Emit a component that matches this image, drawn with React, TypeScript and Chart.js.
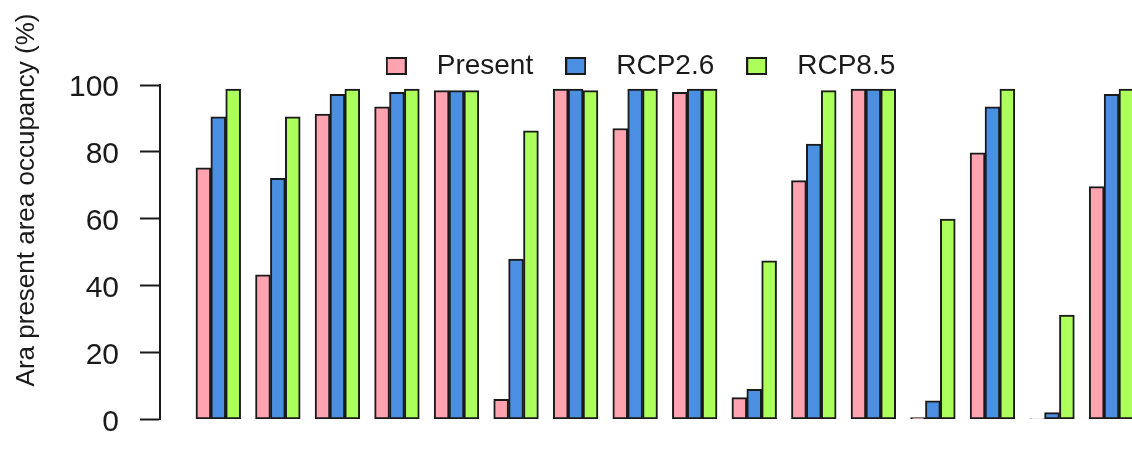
import React, { useEffect, useRef } from "react";
import { Chart, registerables } from "chart.js";

Chart.register(...registerables);

// ---- data ----
const categories = ["1", "2", "3", "4", "5", "6", "7", "8", "9", "10", "11", "12", "13", "14", "15", "16"];
const seriesNames = ["Present", "RCP2.6", "RCP8.5"];
const present = [75.2, 43.2, 91.3, 93.5, 98.3, 6.0, 98.8, 87.0, 97.8, 6.5, 71.4, 98.8, 0.5, 79.7, 0.1, 69.6];
const rcp26 = [90.5, 72.1, 97.2, 97.8, 98.3, 47.9, 98.8, 98.8, 98.8, 9.0, 82.3, 98.8, 5.5, 93.5, 2.0, 97.2];
const rcp85 = [98.8, 90.5, 98.8, 98.8, 98.3, 86.3, 98.3, 98.8, 98.8, 47.4, 98.3, 98.8, 59.9, 98.8, 31.2, 98.8];
const yTicks = [0, 20, 40, 60, 80, 100];
const yTitle = "Ara present area occupancy (%)";

// ---- styles ----
const colors = ["#FFA3B1", "#4B8FE3", "#ADFF5C"];
const ink = "#1a1a1a";
const fontFamily = "'Liberation Sans', Arial, sans-serif";
const CANVAS_W = 1265;
const CANVAS_H = 470;
const AXIS_X = 160; // pixel of the y axis line
const FIRST_CENTER = 218.3; // pixel of first group's centre
const GROUP_STEP = 59.55; // pixels per group

function makeBox(color: string): HTMLCanvasElement {
  const c = document.createElement("canvas");
  c.width = 21;
  c.height = 18;
  const g = c.getContext("2d")!;
  g.fillStyle = color;
  g.fillRect(0, 0, 21, 18);
  g.strokeStyle = ink;
  g.lineWidth = 2;
  g.strokeRect(1, 1, 19, 16);
  return c;
}

export default function App() {
  const ref = useRef<HTMLCanvasElement | null>(null);

  useEffect(() => {
    if (!ref.current) return;
    const boxes = colors.map(makeBox);
    const series = [present, rcp26, rcp85];
    const xMin = 1 + (AXIS_X - FIRST_CENTER) / GROUP_STEP;
    const xMax = 1 + (CANVAS_W - FIRST_CENTER) / GROUP_STEP;

    const titlePlugin = {
      id: "yTitle",
      afterDraw(chart: any) {
        const ctx = chart.ctx;
        ctx.save();
        ctx.font = `26px ${fontFamily}`;
        ctx.fillStyle = ink;
        ctx.translate(34, 200);
        ctx.rotate(-Math.PI / 2);
        ctx.textAlign = "center";
        ctx.textBaseline = "alphabetic";
        ctx.fillText(yTitle, 0, 0);
        ctx.restore();
      },
    };

    const chart = new Chart(ref.current, {
      type: "bar",
      data: {
        labels: categories,
        datasets: seriesNames.map((name, s) => ({
          label: name,
          data: series[s].map((v, i) => ({ x: i + 1, y: v })),
          backgroundColor: colors[s],
          borderColor: ink,
          borderWidth: 2,
          borderSkipped: false,
          barThickness: GROUP_STEP / 4,
        })),
      },
      options: {
        responsive: false,
        animation: false,
        devicePixelRatio: 1,
        layout: { padding: { top: 36, left: 0, right: 0, bottom: CANVAS_H - 419.3 } },
        plugins: {
          tooltip: { enabled: false },
          legend: {
            position: "top",
            align: "center",
            maxHeight: 49,
            labels: {
              usePointStyle: true,
              pointStyleWidth: 53,
              padding: 16,
              color: ink,
              font: { size: 28, family: fontFamily },
              generateLabels: (c: any) =>
                c.data.datasets.map((ds: any, i: number) => ({
                  text: ds.label,
                  fillStyle: ds.backgroundColor,
                  strokeStyle: ink,
                  lineWidth: 2,
                  pointStyle: boxes[i],
                  hidden: false,
                  datasetIndex: i,
                  fontColor: ink,
                })),
            },
          },
        },
        scales: {
          x: {
            type: "linear",
            min: xMin,
            max: xMax,
            offset: false,
            display: false,
            grid: { display: false },
          },
          y: {
            min: yTicks[0],
            max: yTicks[yTicks.length - 1],
            afterFit: (scale: any) => {
              scale.width = AXIS_X;
            },
            afterBuildTicks: (scale: any) => {
              scale.ticks = yTicks.map((v) => ({ value: v }));
            },
            ticks: {
              color: ink,
              font: { size: 30, family: fontFamily },
              padding: 21,
              labelOffset: 3,
            },
            grid: {
              display: true,
              drawOnChartArea: false,
              drawTicks: true,
              tickLength: 20,
              tickColor: ink,
              tickWidth: 2,
            },
            border: { display: true, color: ink, width: 2 },
          },
        },
      },
      plugins: [titlePlugin],
    } as any);

    return () => chart.destroy();
  }, []);

  return (
    <div
      style={{
        position: "fixed",
        left: 0,
        top: 0,
        width: 1132,
        height: 470,
        overflow: "hidden",
        background: "#ffffff",
      }}
    >
      <canvas
        ref={ref}
        width={CANVAS_W}
        height={CANVAS_H}
        style={{ display: "block", width: CANVAS_W, height: CANVAS_H }}
      />
    </div>
  );
}
